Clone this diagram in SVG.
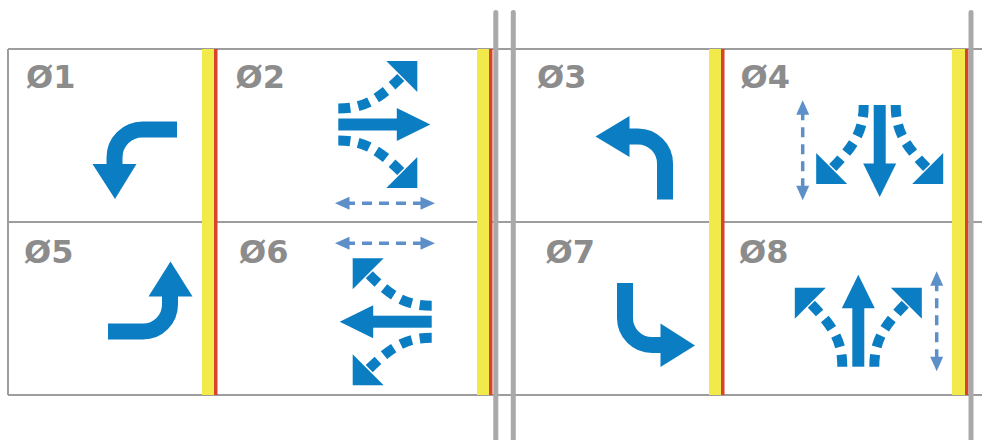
<svg xmlns="http://www.w3.org/2000/svg" width="982" height="440" viewBox="0 0 982 440">
<defs>
<style>
.grid{stroke:#9d9d9d;stroke-width:2;fill:none}
.post{stroke:#a9a9a9;stroke-width:5;stroke-linecap:round;fill:none}
.yellow{fill:#f2ea4b}
.red{fill:#d8432b}
.lbl{font-family:"DejaVu Sans","Liberation Sans",sans-serif;font-weight:bold;font-size:32px;fill:#8c8c8c}
.turn{fill:none;stroke:#0b7dc3;stroke-width:16}
.blue{fill:#0b7dc3}
.dot{fill:none;stroke:#0b7dc3;stroke-width:10;stroke-dasharray:12 8}
.ped{fill:none;stroke:#5d90c8;stroke-width:3.5;stroke-dasharray:10 7}
.pedh{fill:#5d90c8}
</style>
<g id="threeway">
<rect class="blue" x="0" y="-6" width="59" height="12"/>
<polygon class="blue" points="58.5,-16.5 58.5,16.5 92,0"/>
<path class="dot" d="M0,-16 C25,-16 40,-24.5 63.5,-48"/>
<polygon class="blue" points="79,-63.5 48,-63.5 79,-32.5"/>
<path class="dot" d="M0,16 C25,16 40,24.5 63.5,48"/>
<polygon class="blue" points="79,63.5 48,63.5 79,32.5"/>
</g>
<g id="ped">
<line class="ped" x1="-40" y1="0" x2="40" y2="0"/>
<polygon class="pedh" points="-50,0 -35.5,-6.5 -35.5,6.5"/>
<polygon class="pedh" points="50,0 35.5,-6.5 35.5,6.5"/>
</g>
</defs>
<rect x="0" y="0" width="982" height="440" fill="#ffffff"/>
<g id="grid">
<line class="grid" x1="8" y1="49" x2="982" y2="49"/>
<line class="grid" x1="8" y1="222" x2="982" y2="222"/>
<line class="grid" x1="8" y1="395" x2="982" y2="395"/>
<line class="grid" x1="8" y1="49" x2="8" y2="395"/>
<rect class="yellow" x="202" y="49" width="12" height="346"/>
<rect class="red" x="214" y="49" width="3.5" height="346"/>
<rect class="yellow" x="477" y="49" width="12" height="346"/>
<rect class="red" x="489" y="49" width="3.5" height="346"/>
<rect class="yellow" x="709" y="49" width="12" height="346"/>
<rect class="red" x="721" y="49" width="3.5" height="346"/>
<rect class="yellow" x="952" y="49" width="13" height="346"/>
<rect class="red" x="965" y="49" width="3.5" height="346"/>
<line class="post" x1="495.8" y1="12.5" x2="495.8" y2="445"/>
<line class="post" x1="513.3" y1="12.5" x2="513.3" y2="445"/>
<line class="post" x1="971" y1="12.5" x2="971" y2="445"/>
</g>
<g id="phase1">
<text class="lbl" x="26" y="88">Ø1</text>
<path class="turn" d="M177,129.5 H142.5 A28,28 0 0 0 114.5,157.5 V165"/>
<polygon class="blue" points="92.5,164 136.5,164 115,199"/>
</g>
<g id="phase2">
<text class="lbl" x="235.5" y="88">Ø2</text>
<use href="#threeway" transform="translate(338.3,124.5)"/>
<use href="#ped" transform="translate(385,203.3)"/>
</g>
<g id="phase3">
<text class="lbl" x="537" y="88">Ø3</text>
<path class="turn" d="M665,199.5 V163.5 A27,27 0 0 0 638,136.5 H626"/>
<polygon class="blue" points="629.5,116 629.5,157 595.5,136.5"/>
</g>
<g id="phase4">
<text class="lbl" x="740.5" y="88">Ø4</text>
<use href="#threeway" transform="translate(879.7,105) rotate(90)"/>
<use href="#ped" transform="translate(802.7,150.3) rotate(90)"/>
</g>
<g id="phase5">
<text class="lbl" x="24" y="263">Ø5</text>
<path class="turn" d="M108,331.5 H143 A27,27 0 0 0 170,304.5 V295"/>
<polygon class="blue" points="148.5,296.5 192.5,296.5 170.5,261.5"/>
</g>
<g id="phase6">
<text class="lbl" x="239" y="263">Ø6</text>
<use href="#threeway" transform="translate(431.7,321.7) scale(-1,1)"/>
<use href="#ped" transform="translate(385,243.3)"/>
</g>
<g id="phase7">
<text class="lbl" x="545.5" y="263">Ø7</text>
<path class="turn" d="M625,283 V318 A27,27 0 0 0 652,345 H662"/>
<polygon class="blue" points="660.5,323.5 660.5,367 695,345.5"/>
</g>
<g id="phase8">
<text class="lbl" x="739" y="263">Ø8</text>
<use href="#threeway" transform="translate(858.3,366.7) rotate(-90)"/>
<use href="#ped" transform="translate(936.7,321.2) rotate(90)"/>
</g>
</svg>
